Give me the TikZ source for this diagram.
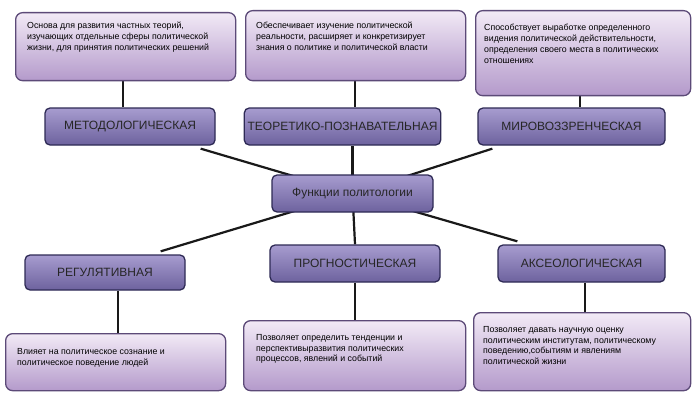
\documentclass[tikz,border=0pt]{standalone}
\usepackage{fontspec}
\usetikzlibrary{backgrounds}
\setmainfont{Liberation Sans}
\definecolor{bxtop}{HTML}{F2EAF6}
\definecolor{bxbot}{HTML}{B49ACB}
\definecolor{bxline}{HTML}{5C4A78}
\definecolor{lbtop}{HTML}{A79CCF}
\definecolor{lbbot}{HTML}{6D629E}
\definecolor{lbline}{HTML}{2E2A55}
\begin{document}
\begin{tikzpicture}[x=1pt,y=-1pt,
 infobox/.style={rounded corners=7pt,draw=bxline,line width=1.3pt,top color=bxtop,bottom color=bxbot,inner sep=6pt},
 boxtext/.style={anchor=north west,align=left,font=\fontsize{8.8}{10.8}\selectfont,inner sep=0pt},
 lbl/.style={rounded corners=5pt,draw=lbline,line width=1.3pt,top color=lbtop,bottom color=lbbot,
   font=\fontsize{12}{14}\selectfont,text=black!85},
 con/.style={line width=2.2pt,black!90}]
\useasboundingbox (0,0) rectangle (700,401);
% top boxes
\node[infobox,minimum width=220pt,minimum height=68pt,anchor=north west] (b1) at (15,12) {};
\node[boxtext] (t1) at (27,22) {Основа для развития частных теорий,\\изучающих отдельные сферы политической\\жизни, для принятия политических решений};
\node[infobox,minimum width=220pt,minimum height=70pt,anchor=north west] (b2) at (245,10) {};
\node[boxtext] (t2) at (256,22) {Обеспечивает изучение политической\\реальности, расширяет и конкретизирует\\знания о политике и политической власти};
\node[infobox,minimum width=215pt,minimum height=85pt,anchor=north west] (b3) at (475,10) {};
\node[boxtext] (t3) at (484,24) {Способствует выработке определенного\\видения политической действительности,\\определения своего места в политических\\отношениях};
% labels
\node[lbl,minimum width=170pt,minimum height=37pt] (m1) at (130,126.5) {МЕТОДОЛОГИЧЕСКАЯ};
\node[lbl,minimum width=195pt,minimum height=37pt] (m2) at (342.5,126.5) {ТЕОРЕТИКО-ПОЗНАВАТЕЛЬНАЯ};
\node[lbl,minimum width=187pt,minimum height=37pt] (m3) at (571.5,126.5) {МИРОВОЗЗРЕНЧЕСКАЯ};
\node[lbl,minimum width=161pt,minimum height=37pt] (c) at (352.5,193.5) {Функции политологии};
\node[lbl,minimum width=160pt,minimum height=35pt] (l1) at (105,272.5) {РЕГУЛЯТИВНАЯ};
\node[lbl,minimum width=170pt,minimum height=37pt] (l2) at (355,263.5) {ПРОГНОСТИЧЕСКАЯ};
\node[lbl,minimum width=167pt,minimum height=37pt] (l3) at (581.5,263.5) {АКСЕОЛОГИЧЕСКАЯ};
% bottom boxes
\node[infobox,minimum width=220pt,minimum height=57pt,anchor=north west] (b4) at (5,333) {};
\node[boxtext] (t4) at (17,348) {Влияет на политическое сознание и\\политическое поведение людей};
\node[infobox,minimum width=222pt,minimum height=70pt,anchor=north west] (b5) at (243,320) {};
\node[boxtext] (t5) at (256,334) {Позволяет определить тенденции и\\перспективыразвития политических\\процессов, явлений и событий};
\node[infobox,minimum width=217pt,minimum height=78pt,anchor=north west] (b6) at (473,312) {};
\node[boxtext] (t6) at (483,326) {Позволяет давать научную оценку\\политическим институтам, политическому\\поведению,событиям и явлениям\\политической жизни};
% connectors
\begin{scope}[on background layer]
\draw[con] (b1.south -| 123,0) -- (m1.north -| 123,0);
\draw[con] (b2.south -| 355,0) -- (m2.north -| 355,0);
\draw[con] (b3.south -| 580,0) -- (m3.north -| 580,0);
\draw[con] (l1.south -| 118,0) -- (b4.north -| 118,0);
\draw[con] (l2.south) -- (b5.north -| 355,0);
\draw[con] (l3.south -| 585,0) -- (b6.north -| 585,0);
\draw[con] (c.center) -- ([xshift=-15pt,yshift=-3pt]m1.south east);
\draw[con] (c.center) -- (m2.south -| 352.5,0);
\draw[con] (c.center) -- ([xshift=15pt,yshift=-3pt]m3.south west);
\draw[con] (c.center) -- ([xshift=-25pt,yshift=3pt]l1.north east);
\draw[con] (c.center) -- (l2.north);
\draw[con] (c.center) -- ([xshift=20pt,yshift=3pt]l3.north west);
\end{scope}
\end{tikzpicture}
\end{document}
